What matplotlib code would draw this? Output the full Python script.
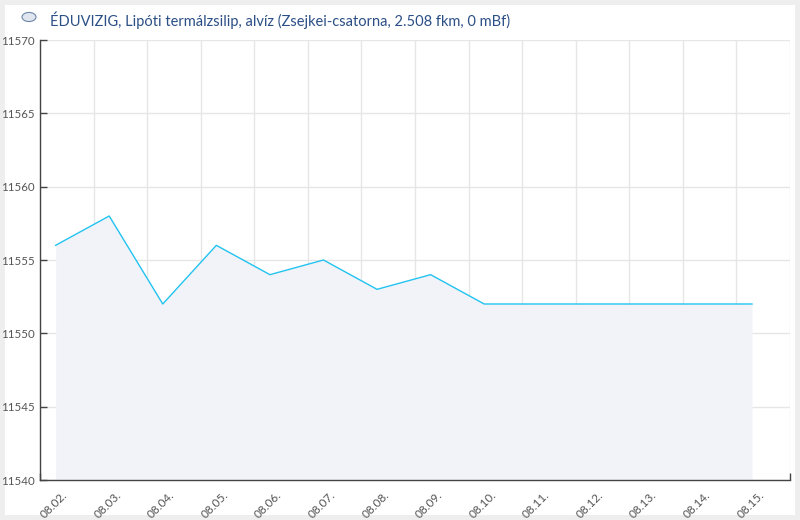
import matplotlib
matplotlib.use("Agg")
import matplotlib.pyplot as plt
import matplotlib.dates as mdates
import matplotlib.transforms as mtransforms
from matplotlib.patches import Rectangle, Circle
from datetime import datetime

plt.rcParams['font.family'] = ['Lato', 'DejaVu Sans']

title = "ÉDUVIZIG, Lipóti termálzsilip, alvíz (Zsejkei-csatorna, 2.508 fkm, 0 mBf)"
days = list(range(2, 16))
hours = [7] * 14
values = [11556, 11558, 11552, 11556, 11554, 11555, 11553, 11554, 11552,
          11552, 11552, 11552, 11552, 11552]
y_ticks = [11540, 11545, 11550, 11555, 11560, 11565, 11570]

times = [datetime(2024, 8, d, h) for d, h in zip(days, hours)]

fig = plt.figure(figsize=(8, 5.2), dpi=100)
fig.patch.set_facecolor('#eeeeee')
fig.patches.append(Rectangle((5/800, 5/520), 790/800, 510/520, transform=fig.transFigure,
                             facecolor='white', edgecolor='none', zorder=-5))

ax = fig.add_axes([40/800, 40/520, 750/800, 440/520])
ax.set_zorder(2)
ax.set_facecolor('none')

ax.fill_between(times, values, y_ticks[0], color='#f2f3f8', zorder=1, linewidth=0)
ax.plot(times, values, color='#22c3f0', linewidth=1.0, zorder=3)

ax.set_xlim(datetime(2024, 8, 2), datetime(2024, 8, 16))
ax.set_ylim(y_ticks[0], y_ticks[-1])
ax.set_yticks(y_ticks)

ax.xaxis.set_minor_locator(mdates.DayLocator())
ax.xaxis.set_major_locator(mdates.HourLocator(byhour=[12]))
ax.xaxis.set_major_formatter(mdates.DateFormatter('%m.%d.'))
ax.tick_params(axis='x', which='major', length=0, pad=7, labelsize=8.5, labelcolor='#555555')
ax.tick_params(axis='x', which='minor', direction='in', length=5, width=1, color='#444444')
ax.tick_params(axis='y', direction='in', length=5, width=1, color='#444444',
               labelsize=8.3, labelcolor='#555555', pad=3.5)
offset = mtransforms.ScaledTranslation(-5/100, 0, fig.dpi_scale_trans)
for lbl in ax.get_xticklabels():
    lbl.set_rotation(45)
    lbl.set_ha('right')
    lbl.set_rotation_mode('anchor')
    lbl.set_transform(lbl.get_transform() + offset)

ax.grid(True, axis='x', which='minor', color='#e6e6e6', linewidth=1, zorder=0)
ax.grid(True, axis='y', which='major', color='#e6e6e6', linewidth=1, zorder=0)
ax.grid(False, axis='x', which='major')
ax.set_axisbelow(True)

for s in ['top', 'right']:
    ax.spines[s].set_visible(False)
for s in ['left', 'bottom']:
    ax.spines[s].set_color('#444444')
    ax.spines[s].set_linewidth(1)

# logo
fig.patches.append(Circle((29/800, 1 - 17/520), 7/800, transform=fig.transFigure,
                          facecolor='#dfe6f0', edgecolor='#6d87a8', linewidth=0.8, zorder=2))
fig.text(50/800, 1 - 20/520, title, fontsize=10.5, color='#2b4f86', va='center', ha='left')

fig.savefig('out.png', dpi=100, facecolor=fig.get_facecolor())
